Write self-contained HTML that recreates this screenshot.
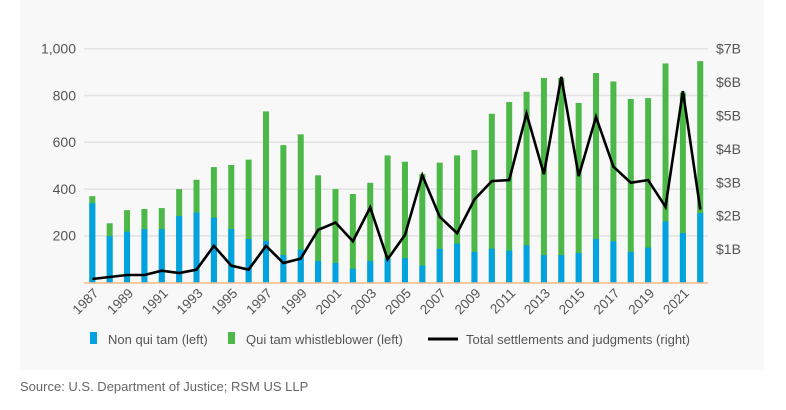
<!DOCTYPE html>
<html><head><meta charset="utf-8"><style>
html,body{margin:0;padding:0;background:#fff;}
svg{display:block;font-family:"Liberation Sans",sans-serif;}
</style></head><body>
<svg width="786" height="410" viewBox="0 0 786 410" xmlns="http://www.w3.org/2000/svg">
<rect x="20" y="0" width="744" height="370" fill="#f8f8f8"/>
<g stroke="#e2e2e2" stroke-width="1.5">
<line x1="84" x2="708" y1="48.7" y2="48.7"/>
<line x1="84" x2="708" y1="95.5" y2="95.5"/>
<line x1="84" x2="708" y1="142.3" y2="142.3"/>
<line x1="84" x2="708" y1="189.1" y2="189.1"/>
<line x1="84" x2="708" y1="235.9" y2="235.9"/>
</g>
<g fill="#555" font-size="14" text-anchor="end">
<text x="76" y="53.5">1,000</text><text x="76" y="100.3">800</text><text x="76" y="147.1">600</text><text x="76" y="193.9">400</text><text x="76" y="240.7">200</text>
</g>
<g fill="#555" font-size="14">
<text x="716" y="53.5">$7B</text><text x="716" y="87">$6B</text><text x="716" y="120.4">$5B</text><text x="716" y="153.8">$4B</text><text x="716" y="187.3">$3B</text><text x="716" y="220.7">$2B</text><text x="716" y="254.1">$1B</text>
</g>
<g id="bars"></g>
<line x1="84" x2="708" y1="283" y2="283" stroke="#f5b98a" stroke-width="1.5"/>
<polyline id="ln" fill="none" stroke="#000" stroke-width="2.6" stroke-linejoin="miter"/>
<g id="xl" fill="#555" font-size="13.5"></g>
<rect x="90" y="332" width="7" height="12" fill="#00a3e0"/>
<text x="108" y="344" fill="#555" font-size="13">Non qui tam (left)</text>
<rect x="228" y="332" width="7" height="12" fill="#4cb848"/>
<text x="246" y="344" fill="#555" font-size="13">Qui tam whistleblower (left)</text>
<line x1="428" x2="458" y1="339" y2="339" stroke="#000" stroke-width="3"/>
<text x="466" y="344" fill="#555" font-size="13">Total settlements and judgments (right)</text>
<text x="20" y="391" fill="#666" font-size="13">Source: U.S. Department of Justice; RSM US LLP</text>
</svg>
<script>
var tot=[370,254,310,315,319,400,440,494,503,526,732,588,634,459,400,379,427,544,517,464,513,544,567,722,772,816,875,875,768,896,860,785,789,937,812,947];
var blu=[340,199,218,229,229,285,300,278,229,187,179,118,141,93,84,60,93,103,105,73,145,167,132,145,137,160,118,118,127,187,177,132,150,262,212,298];
var ln=[0.11,0.17,0.23,0.23,0.36,0.29,0.39,1.1,0.51,0.39,1.1,0.59,0.72,1.58,1.8,1.24,2.25,0.7,1.43,3.22,1.97,1.48,2.49,3.04,3.07,5.06,3.25,6.16,3.19,4.96,3.47,2.99,3.07,2.27,5.73,2.19];
var ns="http://www.w3.org/2000/svg",b=document.getElementById('bars'),xl=document.getElementById('xl'),pts=[];
var base=282.7,k=0.234,kb=33.43;
for(var i=0;i<36;i++){
 var x=92.3+i*17.37;
 var g=document.createElementNS(ns,'rect');g.setAttribute('x',x-3);g.setAttribute('width',6);g.setAttribute('y',base-tot[i]*k);g.setAttribute('height',tot[i]*k);g.setAttribute('fill','#4cb848');b.appendChild(g);
 var c=document.createElementNS(ns,'rect');c.setAttribute('x',x-3);c.setAttribute('width',6);c.setAttribute('y',base-blu[i]*k);c.setAttribute('height',blu[i]*k);c.setAttribute('fill','#00a3e0');b.appendChild(c);
 pts.push(x.toFixed(1)+','+(base-ln[i]*kb).toFixed(1));
 if(i%2==0){var t=document.createElementNS(ns,'text');t.setAttribute('text-anchor','end');t.setAttribute('transform','translate('+(x+7)+',294) rotate(-45)');t.textContent=1987+i;xl.appendChild(t);}
}
document.getElementById('ln').setAttribute('points',pts.join(' '));
</script>
</body></html>
